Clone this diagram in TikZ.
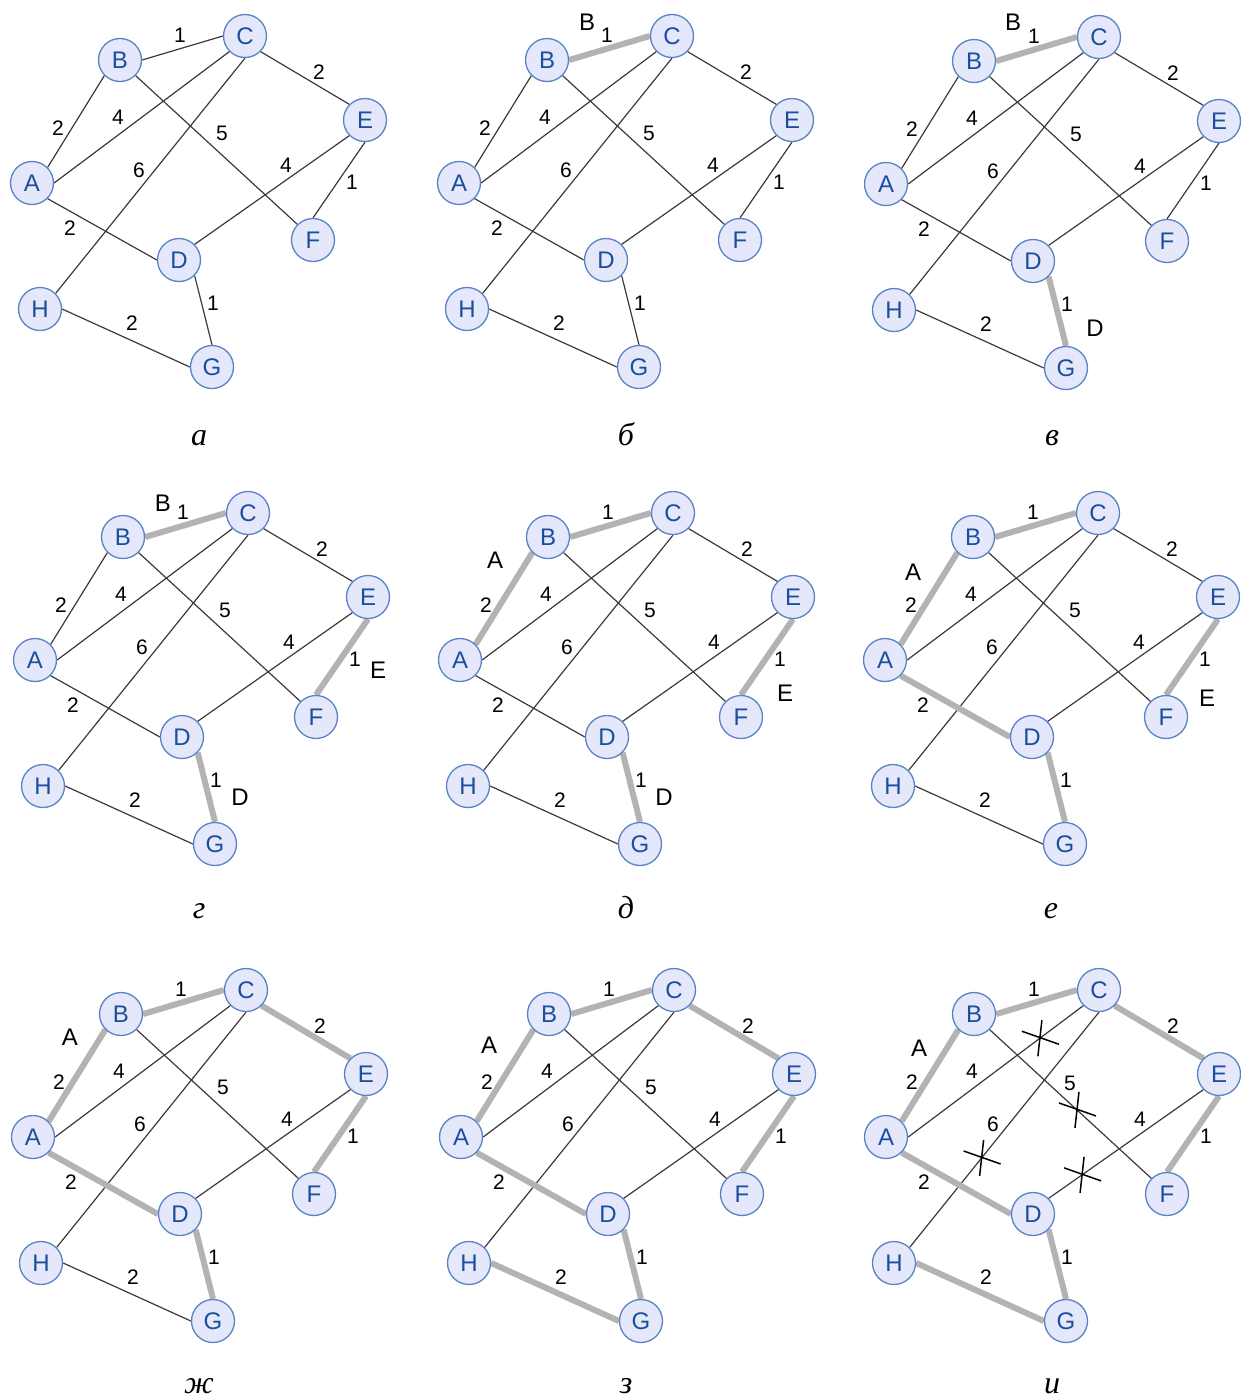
\documentclass[tikz,border=0pt]{standalone}
\usepackage{fontspec}
\setmainfont{Liberation Serif}
\newfontfamily\sansf{Liberation Sans}
\usetikzlibrary{backgrounds,calc}
\definecolor{nfill}{HTML}{E5E8FB}
\definecolor{nborder}{HTML}{5A82C4}
\definecolor{ntext}{HTML}{1A4F9E}
\definecolor{thinc}{HTML}{3A3A3A}
\definecolor{thickc}{HTML}{B3B3B3}
\tikzset{
 vtx/.style={circle, draw=nborder, line width=1.3pt, fill=nfill, text=ntext, minimum size=43pt, inner sep=0pt, font=\sansf\fontsize{24}{24}\selectfont},
 wlab/.style={inner sep=0pt, font=\sansf\fontsize{21}{21}\selectfont},
 ann/.style={inner sep=0pt, font=\sansf\fontsize{24}{24}\selectfont},
 captxt/.style={inner sep=0pt, anchor=base, font=\itshape\fontsize{32}{32}\selectfont},
 thinedge/.style={draw=thinc, line width=1.2pt},
 thickedge/.style={draw=thickc, line width=6pt},
 xmark/.style={draw=black, line width=1.5pt},
}
% edge endpoints (anchors as in the reference)
\newcommand\eAB{(A.north east) -- (B.south west)}
\newcommand\eBC{(B.east) -- (C.west)}
\newcommand\eAC{(A.east) -- (C.south west)}
\newcommand\eCH{(C.south) -- (H.north east)}
\newcommand\eBF{(B.south east) -- (F.north west)}
\newcommand\eCE{(C.south east) -- (E.north west)}
\newcommand\eED{(E.south west) -- (D.north east)}
\newcommand\eEF{(E.south) -- (F.north)}
\newcommand\eAD{(A.south east) -- (D.west)}
\newcommand\eDG{(D.south east) -- (G.north)}
\newcommand\eHG{(H.east) -- (G.west)}
\newcommand\kpanel[6]{%
 \begin{scope}[shift={(#1,#2)}, name prefix=#3-]
  \node[vtx] (A) at (32,183) {A};
  \node[vtx] (B) at (120,60) {B};
  \node[vtx] (C) at (245,36) {C};
  \node[vtx] (E) at (365,120) {E};
  \node[vtx] (F) at (313,240) {F};
  \node[vtx] (D) at (179,260) {D};
  \node[vtx] (H) at (40,309) {H};
  \node[vtx] (G) at (212,367) {G};
  \node[wlab] (wAB) at (58,128) {2};
  \node[wlab] (wBC) at (180,35) {1};
  \node[wlab] (wAC) at (118,117) {4};
  \node[wlab] (wCH) at (139,170) {6};
  \node[wlab] (wBF) at (#4,#5) {5};
  \node[wlab] (wCE) at (319,72) {2};
  \node[wlab] (wED) at (286,165) {4};
  \node[wlab] (wEF) at (352,182) {1};
  \node[wlab] (wAD) at (70,228) {2};
  \node[wlab] (wDG) at (213,303) {1};
  \node[wlab] (wHG) at (132,323) {2};
  \begin{pgfonlayer}{background}
   \draw[thinedge] \eAB; \draw[thinedge] \eBC; \draw[thinedge] \eAC;
   \draw[thinedge] \eCH; \draw[thinedge] \eBF; \draw[thinedge] \eCE;
   \draw[thinedge] \eED; \draw[thinedge] \eEF; \draw[thinedge] \eAD;
   \draw[thinedge] \eDG; \draw[thinedge] \eHG;
  \end{pgfonlayer}
  #6
 \end{scope}}
\newcommand\tk[1]{\begin{pgfonlayer}{background}\draw[thickedge] #1;\end{pgfonlayer}}
\begin{document}
\begin{tikzpicture}[x=1pt,y=-1pt]
\useasboundingbox (0,0) rectangle (1241,1398);
% a
\kpanel{0}{0}{pa}{222}{133}{}
% b
\kpanel{427}{0}{pb}{222}{133}{%
 \tk{\eBC}
 \node[ann] (lB) at (160,22) {B};}
% v
\kpanel{854}{1}{pc}{222}{133}{%
 \tk{\eBC}\tk{\eDG}
 \node[ann] (lB) at (159,21) {B};
 \node[ann] (lD) at (241,327) {D};}
% g
\kpanel{3}{477}{pd}{222}{133}{%
 \tk{\eBC}\tk{\eDG}\tk{\eEF}
 \node[ann] (lB) at (160,26) {B};
 \node[ann] (lE) at (375,193) {E};
 \node[ann] (lD) at (237,320) {D};}
% d
\kpanel{428}{477}{pe}{222}{133}{%
 \tk{\eBC}\tk{\eDG}\tk{\eEF}\tk{\eAB}
 \node[ann] (lA) at (67,83) {A};
 \node[ann] (lE) at (357,216) {E};
 \node[ann] (lD) at (236,320) {D};}
% e
\kpanel{853}{477}{pf}{222}{133}{%
 \tk{\eBC}\tk{\eDG}\tk{\eEF}\tk{\eAB}\tk{\eAD}
 \node[ann] (lA) at (60,95) {A};
 \node[ann] (lE) at (354,221) {E};}
% zh
\kpanel{1}{954}{pg}{222}{133}{%
 \tk{\eBC}\tk{\eDG}\tk{\eEF}\tk{\eAB}\tk{\eAD}\tk{\eCE}
 \node[ann] (lA) at (69,83) {A};}
% z
\kpanel{429}{954}{ph}{222}{133}{%
 \tk{\eBC}\tk{\eDG}\tk{\eEF}\tk{\eAB}\tk{\eAD}\tk{\eCE}\tk{\eHG}
 \node[ann] (lA) at (60,91) {A};}
% i
\kpanel{854}{954}{pi}{216}{129}{%
 \tk{\eBC}\tk{\eDG}\tk{\eEF}\tk{\eAB}\tk{\eAD}\tk{\eCE}\tk{\eHG}
 \node[ann] (lA) at (65,94) {A};
 \coordinate (x1) at ($(A.east)!0.752!(C.south west)$);
 \coordinate (x2) at ($(B.south east)!0.54!(F.north west)$);
 \coordinate (x3) at ($(C.south)!0.62!(H.north east)$);
 \coordinate (x4) at ($(E.south west)!0.784!(D.north east)$);
 \foreach \m in {x1,x2,x3,x4} {\draw[xmark] (\m) ++(-18,-7) -- ++(37,13) (\m) ++(2,-18) -- ++(-4,36);}}
% captions
\node[captxt] (c1) at (199,445) {а};
\node[captxt] (c2) at (626,445) {б};
\node[captxt] (c3) at (1052,445) {в};
\node[captxt] (c4) at (199,918) {г};
\node[captxt] (c5) at (626,918) {д};
\node[captxt] (c6) at (1051,918) {е};
\node[captxt] (c7) at (199,1393) {ж};
\node[captxt] (c8) at (626,1393) {з};
\node[captxt] (c9) at (1052,1393) {и};
\end{tikzpicture}
\end{document}
